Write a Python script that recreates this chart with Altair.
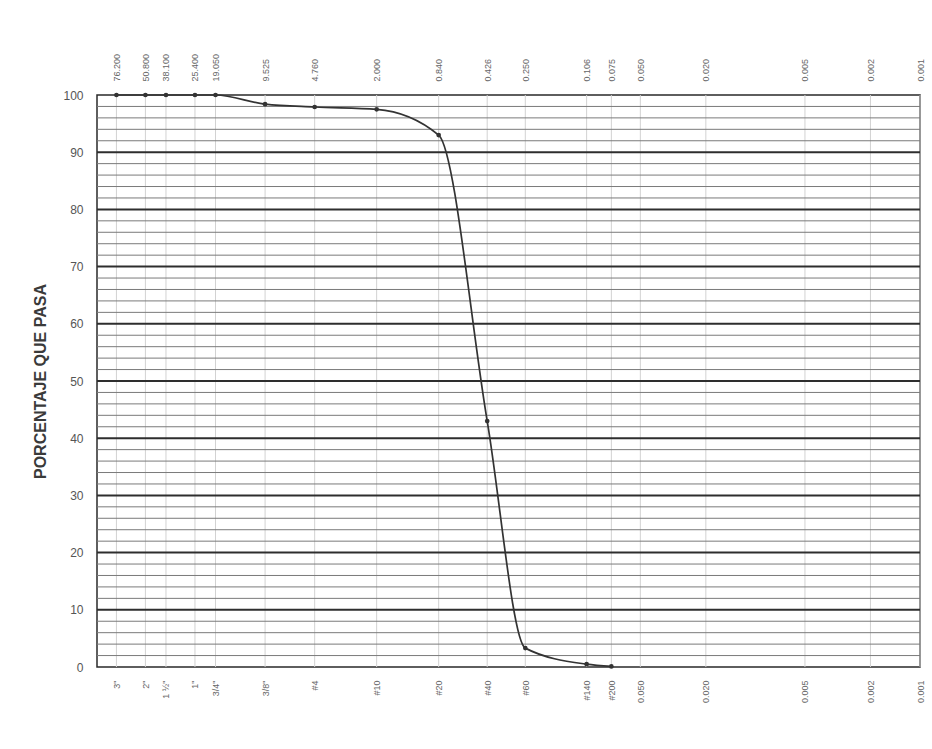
import json
import altair as alt
import pandas as pd

# Grain size distribution: sieve opening (mm) vs. percent passing
sizes_mm = [76.2, 50.8, 38.1, 25.4, 19.05, 9.525, 4.76, 2.0, 0.84, 0.426, 0.25, 0.106, 0.075]
percent_passing = [100, 100, 100, 100, 100, 98.4, 97.9, 97.5, 93.0, 43.0, 3.3, 0.5, 0.1]

# Axis tick positions (mm) and the sieve designations shown under them
tick_sizes = [76.2, 50.8, 38.1, 25.4, 19.05, 9.525, 4.76, 2.0, 0.84, 0.426, 0.25,
              0.106, 0.075, 0.05, 0.02, 0.005, 0.002, 0.001]
sieve_names = ['3"', '2"', '1 ½"', '1"', '3/4"', '3/8"', '#4', '#10', '#20', '#40', '#60',
               '#140', '#200', '0.050', '0.020', '0.005', '0.002', '0.001']

major_levels = [10, 20, 30, 40, 50, 60, 70, 80, 90]
minor_levels = [v for v in range(2, 100, 2) if v % 10 != 0]

curve = pd.DataFrame({"size": sizes_mm, "pct": percent_passing, "order": range(len(sizes_mm))})
ticks_df = pd.DataFrame({"size": tick_sizes})
major_df = pd.DataFrame({"pct": major_levels})
minor_df = pd.DataFrame({"pct": minor_levels})

FONT = "Liberation Sans"
x_scale = alt.Scale(type="log", domain=[0.001, 100], reverse=True, nice=False)
y_scale = alt.Scale(domain=[0, 100], nice=False)

bottom_label_expr = "{}[indexof({}, datum.value)]".format(
    json.dumps(sieve_names, ensure_ascii=False), json.dumps(tick_sizes)
)

# shared left axis, used identically by every layer that encodes y
y_axis = alt.Axis(values=list(range(0, 101, 10)), ticks=False, domain=False,
                  grid=False, labelPadding=14, labelFont=FONT, labelFontSize=12,
                  labelColor="#555", titleFont=FONT, titleFontSize=16,
                  titleFontWeight="bold", titleColor="#3a3a3a", titlePadding=14)
TITLE_Y = "PORCENTAJE QUE PASA"


def y_enc():
    return alt.Y("pct:Q", scale=y_scale, title=TITLE_Y, axis=y_axis)


# vertical grid at each sieve, carrying the top (mm) axis
vgrid = alt.Chart(ticks_df).mark_rule(color="#d2d2d2", strokeWidth=1).encode(
    x=alt.X("size:Q", scale=x_scale, title=None,
            axis=alt.Axis(orient="top", values=tick_sizes, format=".3f",
                          labelAngle=270, labelAlign="left", labelBaseline="middle",
                          labelPadding=14, ticks=False, domain=False, grid=False,
                          labelFont=FONT, labelFontSize=9, labelColor="#666",
                          labelOverlap=False, labelFlush=False))
)

minor_rules = alt.Chart(minor_df).mark_rule(color="#7a7a7a", strokeWidth=1).encode(y=y_enc())
major_rules = alt.Chart(major_df).mark_rule(color="#2e2e2e", strokeWidth=2).encode(y=y_enc())

x_bottom = alt.X("size:Q", scale=x_scale, title=None,
                 axis=alt.Axis(orient="bottom", values=tick_sizes, labelExpr=bottom_label_expr,
                               labelAngle=270, labelAlign="right", labelBaseline="middle",
                               labelPadding=13, ticks=False, domain=False, grid=False,
                               labelFont=FONT, labelFontSize=9, labelColor="#666",
                               labelOverlap=False, labelFlush=False))

line = alt.Chart(curve).mark_line(color="#333", strokeWidth=1.7, interpolate="monotone").encode(
    x=x_bottom, y=y_enc(), order="order:Q"
)
points = alt.Chart(curve).mark_point(filled=True, color="#333", size=22, opacity=1).encode(
    x=alt.X("size:Q", scale=x_scale, axis=None), y=y_enc()
)

chart = (
    alt.layer(vgrid, minor_rules, major_rules, line, points)
    .resolve_axis(x="independent")
    .properties(
        width=823, height=572,
        autosize=alt.AutoSizeParams(type="none"),
        padding={"left": 97, "top": 95, "right": 12, "bottom": 82},
        background="white",
    )
    .configure_view(stroke="#2a2a2a", strokeWidth=1.5)
)

chart.save("out.html", embed_options={"renderer": "svg", "actions": False})
